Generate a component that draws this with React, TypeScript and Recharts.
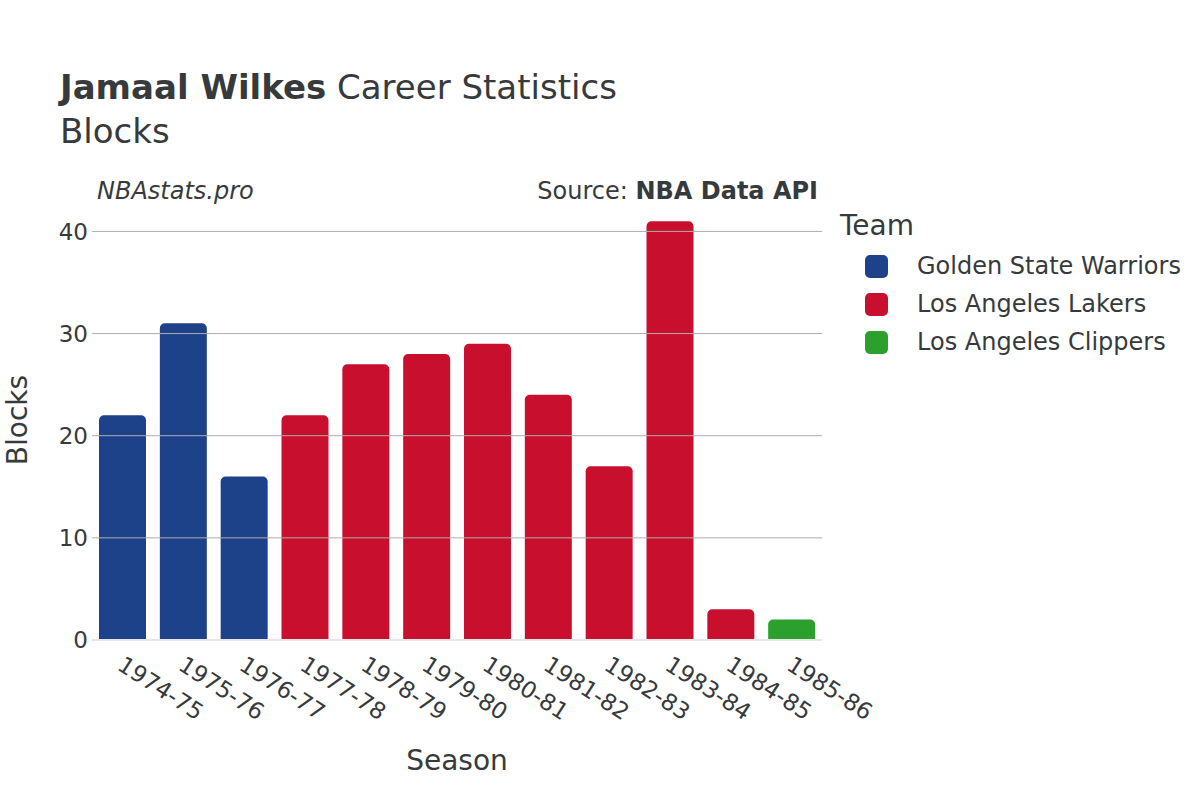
import { Bar, BarChart, ReferenceLine, XAxis, YAxis } from "recharts";

const seasons = ["1974-75", "1975-76", "1976-77", "1977-78", "1978-79", "1979-80", "1980-81", "1981-82", "1982-83", "1983-84", "1984-85", "1985-86"];
const seasonTeams = ["GSW", "GSW", "GSW", "LAL", "LAL", "LAL", "LAL", "LAL", "LAL", "LAL", "LAL", "LAC"];
const blocks = [22, 31, 16, 22, 27, 28, 29, 24, 17, 41, 3, 2];

const teams = [
  { key: "GSW", name: "Golden State Warriors", color: "#1d428a" },
  { key: "LAL", name: "Los Angeles Lakers", color: "#c8102e" },
  { key: "LAC", name: "Los Angeles Clippers", color: "#2ca02c" }
];
const yTicks = [0, 10, 20, 30, 40];

const chartData = seasons.map((season, i) => {
  const row: Record<string, string | number | null> = { season };
  for (const team of teams) {
    row[team.key] = seasonTeams[i] === team.key ? blocks[i] : null;
  }
  return row;
});

const font = "'DejaVu Sans', sans-serif";
const textColor = "#363a3d";

function SeasonTick(props: any) {
  const { x, y, payload } = props;
  return (
    <text
      x={x}
      y={y}
      transform={`rotate(33 ${x} ${y})`}
      textAnchor="start"
      dominantBaseline="hanging"
      fontSize={23}
      fill={textColor}
      fontFamily={font}
      dx={6}
      dy={4}
    >
      {payload.value}
    </text>
  );
}

export default function App() {
  return (
    <div style={{ position: "absolute", left: 0, top: 0, width: 1200, height: 800, background: "#fff", fontFamily: font, color: textColor }}>
      <div style={{ position: "absolute", left: 60, top: 67, fontSize: 34, whiteSpace: "nowrap" }}>
        <b>Jamaal Wilkes</b> Career Statistics
      </div>
      <div style={{ position: "absolute", left: 60, top: 111, fontSize: 34 }}>Blocks</div>
      <div style={{ position: "absolute", left: 97, top: 177, fontSize: 24, fontStyle: "italic" }}>NBAstats.pro</div>
      <div style={{ position: "absolute", right: 382, top: 177, fontSize: 24, whiteSpace: "nowrap" }}>
        Source: <b>NBA Data API</b>
      </div>

      <div style={{ position: "absolute", left: 840, top: 209, fontSize: 28 }}>Team</div>
      {teams.map((team, i) => (
        <div key={team.key} style={{ position: "absolute", left: 865, top: 252 + i * 38, display: "flex", alignItems: "center", fontSize: 24, whiteSpace: "nowrap" }}>
          <span style={{ width: 23, height: 23, borderRadius: 5, background: team.color, display: "inline-block", marginRight: 29 }} />
          {team.name}
        </div>
      ))}

      <div style={{ position: "absolute", left: 17, top: 420, transform: "translate(-50%, -50%) rotate(-90deg)", fontSize: 28 }}>Blocks</div>
      <div style={{ position: "absolute", left: 457, top: 760, transform: "translate(-50%, -50%)", fontSize: 28 }}>Season</div>

      <BarChart
        width={1200}
        height={800}
        data={chartData}
        margin={{ top: 211, right: 378, bottom: 0, left: 32 }}
        barSize={47}
        style={{ position: "absolute", left: 0, top: 0 }}
      >
        <XAxis dataKey="season" axisLine={false} tickLine={false} tick={<SeasonTick />} interval={0} height={160} />
        <YAxis
          width={60}
          domain={[0, 42]}
          ticks={yTicks}
          axisLine={false}
          tickLine={false}
          tickSize={0}
          tickMargin={4}
          tick={{ fontSize: 23, fill: textColor, fontFamily: font }}
        />
        {yTicks.slice(1).map((t) => (
          <ReferenceLine key={t} y={t} stroke="#adadad" strokeWidth={1} />
        ))}
        <ReferenceLine y={0} stroke="#e6e6e6" strokeWidth={2} />
        {teams.map((team) => (
          <Bar key={team.key} dataKey={team.key} stackId="a" fill={team.color} radius={[5, 5, 0, 0]} isAnimationActive={false} />
        ))}
      </BarChart>
    </div>
  );
}
